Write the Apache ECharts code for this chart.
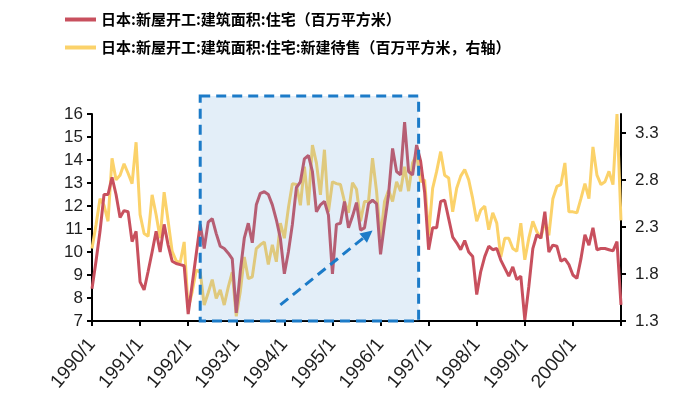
<!DOCTYPE html>
<html>
<head>
<meta charset="utf-8">
<script src="https://cdn.jsdelivr.net/npm/echarts@6/dist/echarts.min.js"></script>
<style>
  html, body { margin: 0; padding: 0; background: #fff; }
  #chart { width: 697px; height: 403px; }
</style>
</head>
<body>
<div id="chart"></div>
<script>
// Monthly housing starts in Japan, 1990/1 – 2001/1
const startYear = 1990;
const monthCount = 133;
const months = [];
for (let i = 0; i < monthCount; i++) {
  months.push((startYear + Math.floor(i / 12)) + '/' + (i % 12 + 1));
}

// 日本:新屋开工:建筑面积:住宅 (百万平方米, left axis)
const floorArea = [
  8.4, 9.6, 10.9, 12.5, 12.5, 13.25, 12.5, 11.5, 11.8, 11.75, 10.45, 10.9,
  8.7, 8.35, 9.15, 10.0, 10.9, 10.0, 11.2, 10.3, 9.6, 9.5, 9.45, 9.4,
  7.3, 8.6, 9.9, 11.2, 10.15, 11.3, 11.45, 10.8, 10.25, 10.15, 9.95, 9.7,
  7.35, 9.15, 10.6, 11.25, 10.4, 12.05, 12.55, 12.62, 12.5, 12.05, 11.4, 10.6,
  9.05, 10.0, 11.2, 12.8, 13.05, 14.05, 14.2, 13.5, 11.75, 12.05, 12.2, 11.6,
  9.05, 11.2, 11.25, 12.2, 11.05, 11.55, 12.15, 10.95, 11.05, 12.1, 12.25, 12.1,
  9.9, 11.25, 12.5, 14.5, 13.5, 13.35, 15.65, 13.5, 13.35, 14.65, 13.95, 12.6,
  10.1, 11.05, 11.05, 12.2, 12.25, 11.45, 10.65, 10.4, 10.1, 10.5, 10.0, 9.8,
  8.15, 9.15, 9.8, 10.25, 10.1, 10.15, 9.65, 9.3, 8.95, 9.35, 8.8, 8.95,
  7.05, 8.5, 10.15, 10.75, 10.6, 11.75, 10.0, 10.3, 10.25, 9.6, 9.7, 9.45,
  9.0, 8.85, 9.7, 10.75, 10.3, 11.05, 10.1, 10.15, 10.15, 10.1, 10.05, 10.45,
  7.7
];

// 日本:新屋开工:建筑面积:住宅:新建待售 (百万平方米, right axis)
const forSale = [
  2.07, 2.32, 2.6, 2.53, 2.36, 3.03, 2.8, 2.85, 2.97, 2.87, 2.76, 3.2,
  2.43, 2.23, 2.2, 2.64, 2.43, 2.18, 2.67, 2.36, 2.04, 1.94, 1.92, 2.14,
  1.43, 1.61, 1.84, 1.82, 1.47, 1.6, 1.74, 1.54, 1.63, 1.47, 1.66, 1.82,
  1.35, 1.61, 1.98, 1.75, 1.77, 2.07, 2.11, 2.14, 1.9, 2.11, 1.93, 2.34,
  2.18, 2.5, 2.76, 2.75, 2.53, 2.94, 2.53, 3.17, 2.98, 2.64, 3.12, 2.46,
  2.78, 2.76, 2.75, 2.57, 2.45, 2.77, 2.7, 2.36, 2.57, 2.57, 3.03, 2.68,
  2.18, 2.57, 2.69, 2.57, 2.78, 2.68, 2.94, 2.68, 2.98, 3.07, 2.78, 2.8,
  2.21, 2.71, 2.89, 3.1, 2.85, 2.82, 2.46, 2.71, 2.84, 2.91, 2.8, 2.6,
  2.36, 2.48, 2.52, 2.27, 2.45, 2.34, 1.98, 2.18, 2.18, 2.07, 2.04, 2.34,
  1.95, 2.18, 2.36, 2.25, 2.18, 2.36, 2.21, 2.6, 2.73, 2.75, 2.98, 2.46,
  2.46, 2.45, 2.6, 2.76, 2.6, 3.15, 2.85, 2.75, 2.78, 2.89, 2.75, 3.5,
  2.37
];

const leftTicks = { min: 7, max: 16, interval: 1 };
const rightTickValues = [1.3, 1.8, 2.3, 2.8, 3.3];
const rightRange = { min: 1.3, max: 3.5 };

// Highlighted upswing period and trend arrow (data coordinates)
const highlightFrom = ['1992/4', 16.78];
const highlightTo = ['1996/10', '1996/11', 7];
const trendFrom = ['1993/12', 7.7];
const trendTo = ['1995/11', 10.93];

const seriesNames = [
  '日本:新屋开工:建筑面积:住宅（百万平方米）',
  '日本:新屋开工:建筑面积:住宅:新建待售（百万平方米，右轴）'
];
const colors = ['#C8505E', '#FBD26A'];

const textColor = '#1f1f1f';
const fontFamily = 'Liberation Sans, Arial, sans-serif';

const chart = echarts.init(document.getElementById('chart'));

const option = {
  animation: false,
  backgroundColor: '#ffffff',
  color: colors,
  legend: {
    orient: 'vertical',
    left: 60,
    top: 7,
    itemWidth: 31,
    itemHeight: 4,
    itemGap: 13,
    icon: 'rect',
    textStyle: {
      color: '#000',
      fontSize: 15,
      fontWeight: 'bold',
      fontFamily: '"Noto Sans CJK SC", sans-serif'
    },
    data: seriesNames
  },
  grid: { left: 92, right: 76, top: 114, bottom: 82 },
  xAxis: {
    type: 'category',
    data: months,
    boundaryGap: false,
    axisLine: { lineStyle: { color: '#000', width: 2 } },
    axisTick: {
      length: 5,
      lineStyle: { color: '#000', width: 2 },
      interval: function (i) { return i % 12 === 0; }
    },
    axisLabel: {
      rotate: 50,
      color: textColor,
      fontSize: 19,
      fontFamily: fontFamily,
      margin: 20,
      interval: function (i) { return i % 12 === 0 && i < 132; }
    },
    splitLine: { show: false }
  },
  yAxis: [
    {
      type: 'value',
      min: leftTicks.min,
      max: leftTicks.max,
      interval: leftTicks.interval,
      axisLine: { show: true, lineStyle: { color: '#000', width: 2 } },
      axisTick: { show: true, length: 5, lineStyle: { color: '#000', width: 2 } },
      axisLabel: { color: textColor, fontSize: 17, fontFamily: fontFamily, margin: 9 },
      splitLine: { show: false }
    },
    {
      type: 'value',
      min: rightRange.min,
      max: rightRange.max,
      axisLine: { show: true, lineStyle: { color: '#000', width: 2 } },
      axisTick: {
        show: true, length: 5, lineStyle: { color: '#000', width: 2 },
        customValues: rightTickValues
      },
      axisLabel: {
        color: textColor, fontSize: 17, fontFamily: fontFamily, margin: 14,
        customValues: rightTickValues,
        formatter: function (v) { return v.toFixed(1); }
      },
      splitLine: { show: false }
    }
  ],
  series: [
    {
      name: seriesNames[0],
      type: 'line',
      yAxisIndex: 0,
      data: floorArea,
      showSymbol: false,
      symbol: 'none',
      lineStyle: { width: 3, color: colors[0] },
      z: 3
    },
    {
      name: seriesNames[1],
      type: 'line',
      yAxisIndex: 1,
      data: forSale,
      showSymbol: false,
      symbol: 'none',
      lineStyle: { width: 3, color: colors[1] },
      z: 2
    }
  ]
};

chart.setOption(option);

// Overlay box and dashed trend arrow, placed through the axes' own scales
function toPx(cat, val) {
  return chart.convertToPixel({ xAxisIndex: 0, yAxisIndex: 0 }, [cat, val]);
}
const tl = toPx(highlightFrom[0], highlightFrom[1]);
const brA = toPx(highlightTo[0], highlightTo[2]);
const brB = toPx(highlightTo[1], highlightTo[2]);
const br = [(brA[0] + brB[0]) / 2, brA[1]];
const a0 = toPx(trendFrom[0], trendFrom[1]);
const a1 = toPx(trendTo[0], trendTo[1]);
const ang = Math.atan2(a1[1] - a0[1], a1[0] - a0[0]);
const headLen = 12, headHalf = 6;
const base = [a1[0] - headLen * Math.cos(ang), a1[1] - headLen * Math.sin(ang)];
const perp = [-Math.sin(ang), Math.cos(ang)];
const blue = '#1C7BC8';

chart.setOption({
  graphic: [
    {
      type: 'rect',
      z: 10,
      silent: true,
      shape: { x: tl[0], y: tl[1], width: br[0] - tl[0], height: br[1] - tl[1] },
      style: {
        fill: 'rgba(99,161,216,0.18)',
        stroke: blue,
        lineWidth: 3,
        lineDash: [10, 6]
      }
    },
    {
      type: 'line',
      z: 11,
      silent: true,
      shape: { x1: a0[0], y1: a0[1], x2: base[0], y2: base[1] },
      style: { stroke: blue, lineWidth: 3, lineDash: [10, 6] }
    },
    {
      type: 'polygon',
      z: 11,
      silent: true,
      shape: {
        points: [
          [a1[0], a1[1]],
          [base[0] + perp[0] * headHalf, base[1] + perp[1] * headHalf],
          [base[0] - perp[0] * headHalf, base[1] - perp[1] * headHalf]
        ]
      },
      style: { fill: blue }
    }
  ]
});
</script>
</body>
</html>
